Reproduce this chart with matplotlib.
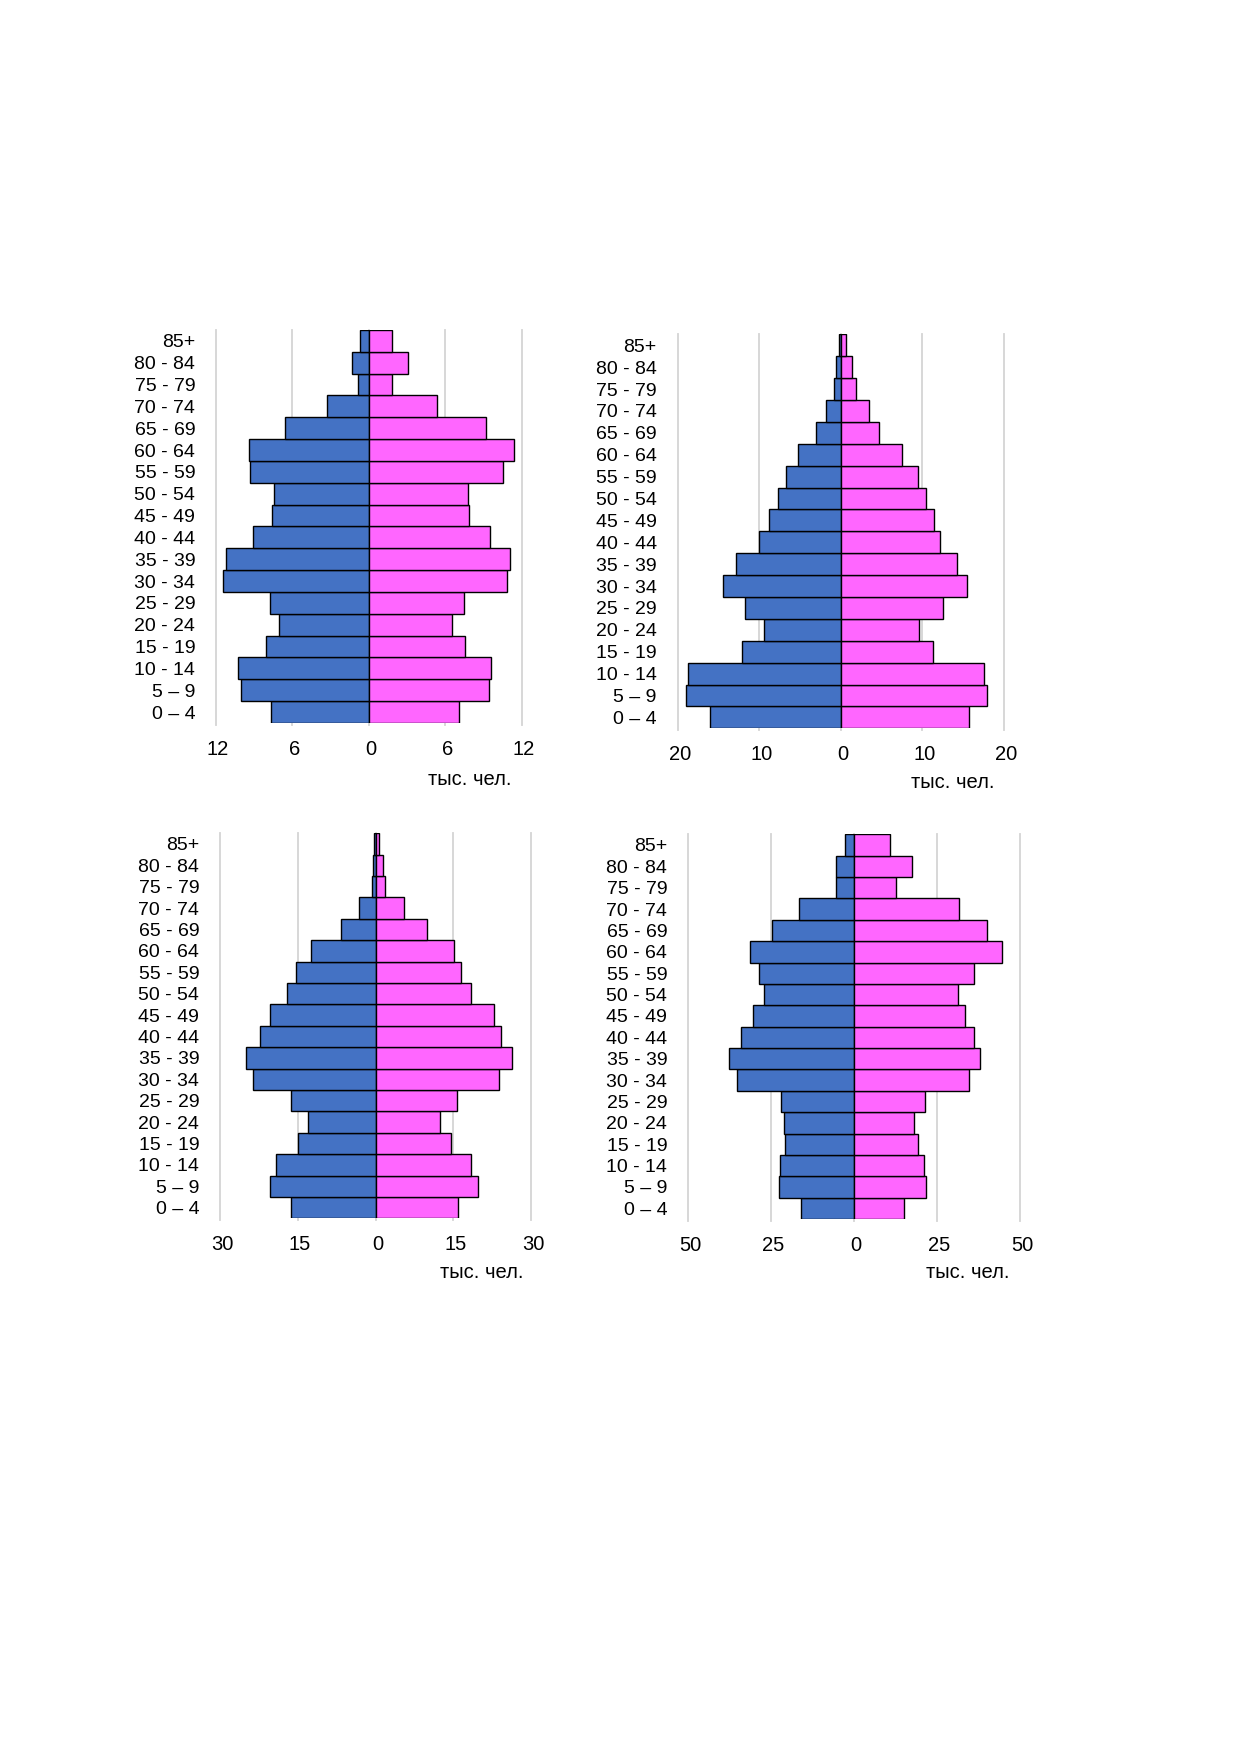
import matplotlib
matplotlib.use("Agg")
import matplotlib.pyplot as plt
import matplotlib.transforms as mtransforms

plt.rcParams['font.family'] = ['Liberation Sans', 'DejaVu Sans']

age_groups = ["0 – 4", "5 – 9", "10 - 14", "15 - 19", "20 - 24", "25 - 29", "30 - 34",
              "35 - 39", "40 - 44", "45 - 49", "50 - 54", "55 - 59", "60 - 64",
              "65 - 69", "70 - 74", "75 - 79", "80 - 84", "85+"]

# values listed from 0-4 up to 85+ (thousand people)
male_1 = [7.65, 10.03, 10.26, 8.04, 7.08, 7.73, 11.44, 11.25, 9.09, 7.57, 7.47, 9.30, 9.40, 6.58, 3.29, 0.89, 1.33, 0.73]
female_1 = [7.05, 9.45, 9.56, 7.52, 6.50, 7.49, 10.81, 11.10, 9.48, 7.89, 7.81, 10.57, 11.36, 9.16, 5.33, 1.85, 3.05, 1.83]

male_2 = [16.07, 18.94, 18.77, 12.15, 9.45, 11.78, 14.48, 12.88, 10.06, 8.83, 7.73, 6.75, 5.28, 3.07, 1.84, 0.86, 0.61, 0.25]
female_2 = [15.71, 17.91, 17.55, 11.29, 9.57, 12.52, 15.46, 14.23, 12.15, 11.41, 10.43, 9.49, 7.48, 4.66, 3.44, 1.84, 1.35, 0.61]

male_3 = [16.21, 20.45, 19.10, 14.86, 12.93, 16.21, 23.54, 25.08, 22.19, 20.26, 17.17, 15.43, 12.48, 6.69, 3.22, 0.71, 0.39, 0.26]
female_3 = [15.82, 19.68, 18.52, 14.47, 12.54, 15.63, 23.92, 26.24, 24.12, 22.77, 18.33, 16.59, 15.05, 10.03, 5.59, 1.74, 1.54, 0.58]

male_4 = [15.96, 22.59, 22.29, 20.78, 21.08, 21.99, 35.24, 37.65, 34.04, 30.42, 27.11, 28.61, 31.33, 24.70, 16.57, 5.42, 5.42, 2.71]
female_4 = [15.06, 21.69, 21.08, 19.28, 18.07, 21.39, 34.64, 37.95, 36.14, 33.43, 31.33, 36.14, 44.58, 40.06, 31.63, 12.65, 17.47, 10.84]

ticks_1 = [-12, -6, 0, 6, 12]
ticks_2 = [-20, -10, 0, 10, 20]
ticks_3 = [-30, -15, 0, 15, 30]
ticks_4 = [-50, -25, 0, 25, 50]

unit_label = "тыс. чел."

W, H = 1240, 1754
fig = plt.figure(figsize=(W / 100, H / 100), dpi=100)

# panel geometry in pixels: (x_left, x_right, y_top, y_bottom, unit label center x, unit label y)
panels = [
    (216, 521.7, 330, 723, 470, 780, male_1, female_1, ticks_1),
    (677.7, 1004, 334.3, 728.3, 953, 783, male_2, female_2, ticks_2),
    (220, 531, 833.3, 1218.3, 482, 1272, male_3, female_3, ticks_3),
    (688, 1020, 834.3, 1219, 968, 1272, male_4, female_4, ticks_4),
]

blue = "#4472C4"
pink = "#FF66FF"
grid_c = "#D4D4D4"
fs = 14

for (xl, xr, yt, yb, ux, uy, male, female, ticks) in panels:
    ax = fig.add_axes([xl / W, 1 - yb / H, (xr - xl) / W, (yb - yt) / H])
    ypos = list(range(len(age_groups)))
    for t in ticks:
        ax.axvline(t, color=grid_c, lw=1.3, zorder=0, clip_on=False, ymin=-0.005, ymax=1.0)
    ax.barh(ypos, [-v for v in male], height=1.0, color=blue, edgecolor="black", linewidth=1.0, zorder=2)
    ax.barh(ypos, female, height=1.0, color=pink, edgecolor="black", linewidth=1.0, zorder=2)
    ax.set_xlim(ticks[0], ticks[-1])
    ax.set_ylim(-0.5, len(age_groups) - 0.5)
    ax.set_yticks(ypos)
    ax.set_yticklabels(age_groups, fontsize=fs)
    ax.set_xticks(ticks)
    ax.set_xticklabels([str(abs(t)) for t in ticks], fontsize=fs + 0.5)
    ax.tick_params(axis="y", length=0, pad=15)
    ax.tick_params(axis="x", length=0, pad=12)
    offset = mtransforms.ScaledTranslation(2 / 100, 0, fig.dpi_scale_trans)
    for lab in ax.get_xticklabels():
        lab.set_transform(lab.get_transform() + offset)
    for s in ax.spines.values():
        s.set_visible(False)
    ax.set_facecolor("none")
    fig.text(ux / W, 1 - uy / H, unit_label, fontsize=fs + 0.5, ha="center", va="center")

fig.savefig("out.png", dpi=100, facecolor="white")
